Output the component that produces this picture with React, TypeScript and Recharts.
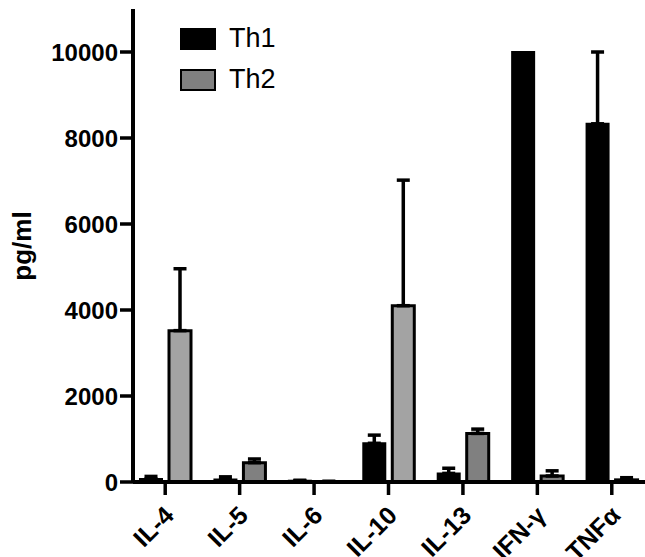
import { BarChart, Bar, XAxis, YAxis, ErrorBar, Legend, Cell } from "recharts";

const categories = ["IL-4", "IL-5", "IL-6", "IL-10", "IL-13", "IFN-γ", "TNFα"];
const th1Values = [70, 60, 30, 900, 200, 10000, 8330];
const th1Errors = [60, 60, 10, 190, 120, null, 1670];
const th2Values = [3520, 450, 10, 4100, 1130, 140, 50];
const th2Errors = [1440, 85, 5, 2920, 100, 120, 50];
const th2Shades = ["#a3a3a3", "#808080", "#808080", "#a3a3a3", "#808080", "#808080", "#808080"];
const yTicks = [0, 2000, 4000, 6000, 8000, 10000];

const data = categories.map((name, i) => ({
    name,
    th1: th1Values[i],
    th1Err: th1Errors[i] === null ? undefined : [0, th1Errors[i]],
    th2: th2Values[i],
    th2Err: [0, th2Errors[i]],
}));

const font = "'Liberation Sans', Arial, Helvetica, sans-serif";

function CategoryTick(props: any) {
    const { x, y, payload } = props;
    return (
        <text
            x={0}
            y={0}
            transform={`translate(${x + 10},${y + 20}) rotate(-45)`}
            textAnchor="end"
            fontFamily={font}
            fontWeight="bold"
            fontSize={25}
            fill="#000"
        >
            {payload.value}
        </text>
    );
}

function AxisTitle() {
    return (
        <text
            x={22}
            y={246}
            transform="rotate(-90 22 246)"
            textAnchor="middle"
            dominantBaseline="central"
            fontFamily={font}
            fontWeight="bold"
            fontSize={26}
            fill="#000"
        >
            pg/ml
        </text>
    );
}

function LegendBox() {
    const items = [
        { label: "Th1", fill: "#000" },
        { label: "Th2", fill: "#808080" },
    ];
    return (
        <div style={{ fontFamily: font, fontSize: 27, color: "#000" }}>
            {items.map((item) => (
                <div key={item.label} style={{ display: "flex", alignItems: "center", height: 41 }}>
                    <div
                        style={{
                            width: 32,
                            height: 18,
                            background: item.fill,
                            border: "2.5px solid #000",
                            marginRight: 13,
                        }}
                    />
                    <span>{item.label}</span>
                </div>
            ))}
        </div>
    );
}

export default function App() {
    return (
        <div style={{ position: "fixed", left: 0, top: 0, width: 645, height: 557, overflow: "hidden", background: "#fff" }}>
            <BarChart
                width={660}
                height={557}
                data={data}
                margin={{ top: 9, right: 11, bottom: 0, left: 0 }}
                barSize={22}
                barGap={7}
            >
                <XAxis
                    dataKey="name"
                    height={75}
                    padding={{ left: -5, right: 0 }}
                    axisLine={{ stroke: "#000", strokeWidth: 4 }}
                    tickLine={{ stroke: "#000", strokeWidth: 3.5 }}
                    tickSize={13}
                    tick={<CategoryTick />}
                    interval={0}
                />
                <YAxis
                    width={133}
                    domain={[0, 11000]}
                    ticks={yTicks}
                    axisLine={{ stroke: "#000", strokeWidth: 4 }}
                    tickLine={{ stroke: "#000", strokeWidth: 3.5 }}
                    tickSize={13}
                    tickMargin={2}
                    tick={{ fill: "#000", fontFamily: font, fontWeight: "bold", fontSize: 24 }}
                    label={<AxisTitle />}
                />
                <Legend
                    layout="vertical"
                    verticalAlign="middle"
                    align="center"
                    wrapperStyle={{ left: 180, top: 18, width: "auto" }}
                    content={<LegendBox />}
                />
                <Bar dataKey="th1" name="Th1" fill="#000" stroke="#000" strokeWidth={2} isAnimationActive={false}>
                    <ErrorBar dataKey="th1Err" direction="y" width={6.5} stroke="#000" strokeWidth={3.5} />
                </Bar>
                <Bar dataKey="th2" name="Th2" fill="#808080" stroke="#000" strokeWidth={3} isAnimationActive={false}>
                    {th2Shades.map((shade, i) => (
                        <Cell key={categories[i]} fill={shade} />
                    ))}
                    <ErrorBar dataKey="th2Err" direction="y" width={6.5} stroke="#000" strokeWidth={3.5} />
                </Bar>
            </BarChart>
        </div>
    );
}
